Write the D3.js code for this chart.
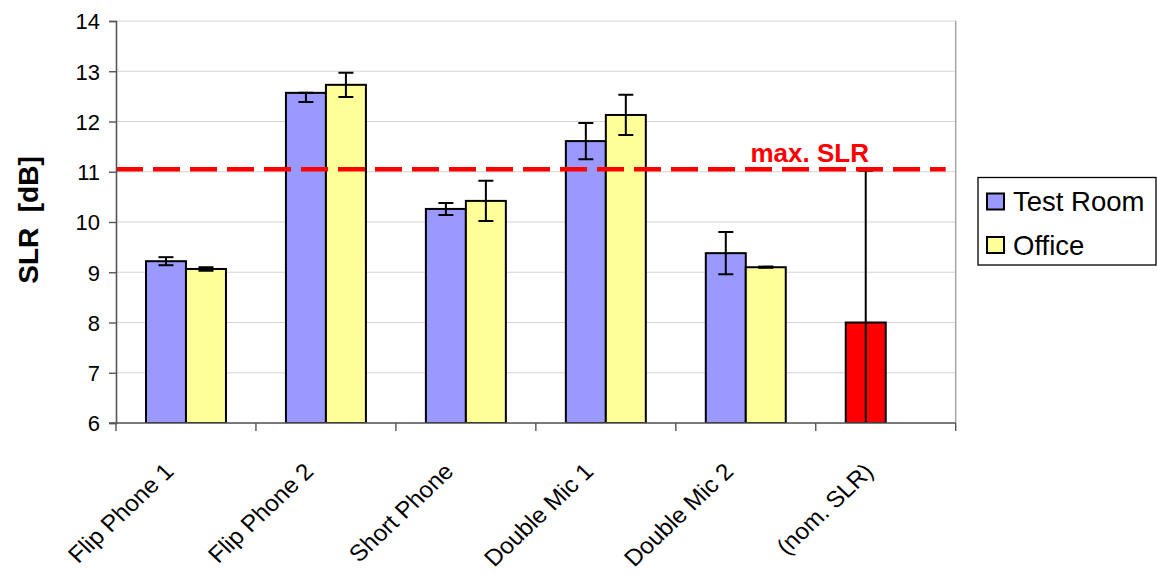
<!DOCTYPE html>
<html>
<head>
<meta charset="utf-8">
<script src="https://cdn.jsdelivr.net/npm/d3@7"></script>
<style>
  html, body { margin: 0; padding: 0; background: #fff; }
  text { font-family: "Liberation Sans", Arial, sans-serif; }
</style>
</head>
<body>
<svg id="chart" width="1157" height="574"></svg>
<script>
// ---- data ----
const categories = ["Flip Phone 1", "Flip Phone 2", "Short Phone", "Double Mic 1", "Double Mic 2", "(nom. SLR)"];
const seriesNames = ["Test Room", "Office"];
const testRoom = [9.22, 12.57, 10.26, 11.61, 9.38, 8.0];
const testRoomErrUp = [0.08, 0.0, 0.12, 0.36, 0.42, 3.02];
const testRoomErrDown = [0.08, 0.18, 0.12, 0.36, 0.42, 3.02];
const office = [9.065, 12.73, 10.42, 12.13, 9.10, null];
const officeErr = [0.035, 0.24, 0.40, 0.40, 0.012, null];
const yTicks = [6, 7, 8, 9, 10, 11, 12, 13, 14];
const maxSLR = 11.05;
const maxLabel = "max. SLR";
const yTitle = "SLR  [dB]";

// ---- layout ----
const svg = d3.select("#chart");
const L = 116, R = 955.7, T = 21, B = 423;
const colors = { "Test Room": "#9999FF", "Office": "#FFFF99" };
const highlight = "#FF0000";

const x = d3.scaleBand().domain(categories).range([L, R]).paddingInner(0).paddingOuter(0);
const xs = d3.scaleBand().domain(seriesNames).range([0, x.bandwidth()]).paddingInner(0).paddingOuter(0.75);
const y = d3.scaleLinear().domain([6, 14]).range([B, T]);

svg.append("defs").append("clipPath").attr("id", "plotclip")
  .append("rect").attr("x", L).attr("y", T).attr("width", R - L).attr("height", B - T);

// gridlines
svg.append("g").selectAll("line").data(yTicks).join("line")
  .attr("x1", L).attr("x2", R)
  .attr("y1", d => y(d)).attr("y2", d => y(d))
  .attr("stroke", "#d4d4d4").attr("stroke-width", 1.2);

// right plot border
svg.append("line").attr("x1", R).attr("x2", R).attr("y1", T).attr("y2", B)
  .attr("stroke", "#a6a6a6").attr("stroke-width", 1.5);

// rows
const rows = categories.map((c, i) => ({
  c, i,
  vals: [
    { s: "Test Room", v: testRoom[i], up: testRoomErrUp[i], dn: testRoomErrDown[i] },
    { s: "Office", v: office[i], up: officeErr[i], dn: officeErr[i] }
  ].filter(d => d.v != null)
}));

const plot = svg.append("g").attr("clip-path", "url(#plotclip)");
const groups = plot.selectAll("g.cat").data(rows).join("g")
  .attr("transform", d => `translate(${x(d.c)},0)`);

groups.selectAll("rect").data(d => d.vals.map(v => ({ ...v, last: d.i === categories.length - 1 }))).join("rect")
  .attr("x", d => xs(d.s))
  .attr("width", xs.bandwidth())
  .attr("y", d => y(d.v))
  .attr("height", d => y(6) - y(d.v))
  .attr("fill", d => d.last ? highlight : colors[d.s])
  .attr("stroke", "#000").attr("stroke-width", 2);

// error bars
const eb = groups.selectAll("g.eb").data(d => d.vals).join("g").attr("class", "eb");
const cx = d => xs(d.s) + xs.bandwidth() / 2;
eb.append("line")
  .attr("x1", cx).attr("x2", cx)
  .attr("y1", d => y(d.v + d.up)).attr("y2", d => y(d.v - d.dn))
  .attr("stroke", "#000").attr("stroke-width", 2);
eb.append("line")
  .attr("x1", d => cx(d) - 7.5).attr("x2", d => cx(d) + 7.5)
  .attr("y1", d => y(d.v + d.up)).attr("y2", d => y(d.v + d.up))
  .attr("stroke", "#000").attr("stroke-width", 2);
eb.append("line")
  .attr("x1", d => cx(d) - 7.5).attr("x2", d => cx(d) + 7.5)
  .attr("y1", d => y(d.v - d.dn)).attr("y2", d => y(d.v - d.dn))
  .attr("stroke", "#000").attr("stroke-width", 2);

// max SLR dashed line
svg.append("line")
  .attr("x1", L).attr("x2", R - 10)
  .attr("y1", y(maxSLR)).attr("y2", y(maxSLR))
  .attr("stroke", "#FF0000").attr("stroke-width", 4.5)
  .attr("stroke-dasharray", "27,10");
svg.append("text")
  .attr("x", 869).attr("y", y(maxSLR) - 7.5)
  .attr("text-anchor", "end")
  .attr("font-size", 26).attr("font-weight", "bold").attr("fill", "#FF0000")
  .text(maxLabel);

// y axis
const yAxis = svg.append("g").attr("transform", `translate(${L},0)`)
  .call(d3.axisLeft(y).tickValues(yTicks).tickSize(7).tickPadding(9).tickFormat(d3.format("d")));
yAxis.select(".domain").attr("stroke", "#555").attr("stroke-width", 1.6);
yAxis.selectAll(".tick line").attr("stroke", "#555").attr("stroke-width", 1.4);
yAxis.selectAll(".tick text").attr("font-size", 22).attr("fill", "#000")
  .attr("font-family", "Liberation Sans, Arial, sans-serif").attr("dy", "0.36em");

// x axis
svg.append("line").attr("x1", L - 7).attr("x2", R).attr("y1", B).attr("y2", B)
  .attr("stroke", "#555").attr("stroke-width", 1.6);
const xTickPos = categories.map(c => x(c)).concat([x.range()[1]]);
svg.append("g").selectAll("line").data(xTickPos).join("line")
  .attr("x1", d => d).attr("x2", d => d).attr("y1", B).attr("y2", B + 8)
  .attr("stroke", "#555").attr("stroke-width", 1.4);

svg.append("g").selectAll("text").data(categories).join("text")
  .attr("transform", d => `translate(${x(d) + x.bandwidth() / 2 - 11},${B + 50}) scale(1.06,1) rotate(-45)`)
  .attr("text-anchor", "end")
  .attr("font-size", 23)
  .attr("fill", "#000")
  .text(d => d);

// y title
svg.append("text")
  .attr("transform", `translate(38,220) rotate(-90)`)
  .attr("text-anchor", "middle")
  .attr("font-size", 28).attr("font-weight", "bold")
  .style("white-space", "pre")
  .text(yTitle);

// legend
const lg = svg.append("g");
lg.append("rect").attr("x", 978).attr("y", 177.5).attr("width", 178).attr("height", 87.5)
  .attr("fill", "#fff").attr("stroke", "#000").attr("stroke-width", 1.3);
const li = lg.selectAll("g.li").data(seriesNames).join("g")
  .attr("transform", (d, i) => `translate(987,${193.5 + i * 43.5})`);
li.append("rect").attr("width", 17).attr("height", 16)
  .attr("fill", d => colors[d]).attr("stroke", "#000").attr("stroke-width", 2);
li.append("text").attr("x", 26).attr("y", 17.5).attr("font-size", 27.5).attr("fill", "#000").text(d => d);
</script>
</body>
</html>
